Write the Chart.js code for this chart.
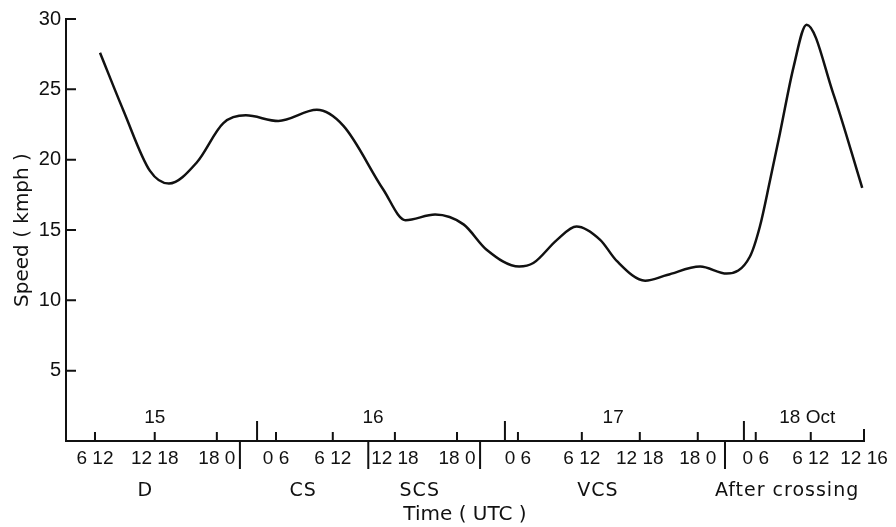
<!DOCTYPE html>
<html>
<head>
<meta charset="utf-8">
<script src="https://cdn.jsdelivr.net/npm/chart.js@4/dist/chart.umd.min.js"></script>
<style>
  body { margin: 0; background: #fff; }
  #speedChart { display: block; }
</style>
</head>
<body>
<canvas id="speedChart" width="896" height="527"></canvas>
<script>
// x is measured in 6-hourly steps from the first labelled tick
const curveX = [0.085, 0.48, 0.93, 1.25, 1.72, 2.17, 2.55, 3.10, 3.75, 4.20, 4.87, 5.25, 5.75, 6.23, 6.62,
  7.17, 7.41, 7.81, 8.14, 8.54, 8.82, 9.30, 9.67, 10.23, 10.68, 11.07, 11.24, 11.41, 11.58, 11.81, 12.03,
  12.48, 12.97];
const speed = [27.6, 23.5, 19.2, 18.3, 19.8, 22.6, 23.15, 22.75, 23.54, 22.4, 17.9, 15.7, 16.1, 15.4, 13.6,
  12.4, 12.65, 14.3, 15.25, 14.3, 12.8, 11.4, 11.8, 12.4, 11.9, 13.1, 15.25, 18.5, 21.9, 26.6, 29.6,
  24.7, 18.0];

const tickPos = [0, 1.01, 2.06, 3.06, 4.02, 5.07, 6.12, 7.15, 8.23, 9.21, 10.19, 11.17, 12.10, 13.0];
const tickLabels = ["6 12", "12 18", "18 0", "0 6", "6 12", "12 18", "18 0", "0 6", "6 12", "12 18", "18 0", "0 6", "6 12", "12 16"];

const days = ["15", "16", "17", "18 Oct"];
const dayPos = [1.01, 4.70, 8.76, 12.04];
const dayBounds = [2.74, 6.93, 10.97];

const stages = ["D", "CS", "SCS", "VCS", "After crossing"];
const stagePos = [0.85, 3.52, 5.49, 8.50, 11.70];
const stageBounds = [2.45, 4.62, 6.51, 10.65];

const speedTicks = [5, 10, 15, 20, 25, 30];

const ink = "#111";

const axisMarks = {
  id: "axisMarks",
  afterDraw(chart) {
    const ctx = chart.ctx;
    const xs = chart.scales.x;
    const ys = chart.scales.y;
    const bottom = ys.getPixelForValue(0);
    const left = xs.left;
    ctx.save();
    ctx.strokeStyle = ink;
    ctx.lineWidth = 2;
    ctx.beginPath();
    speedTicks.forEach(v => {
      const y = ys.getPixelForValue(v);
      ctx.moveTo(left, y);
      ctx.lineTo(left + 10, y);
    });
    tickPos.forEach((v, i) => {
      const x = xs.getPixelForValue(v);
      ctx.moveTo(x, bottom);
      ctx.lineTo(x, bottom - (i === tickPos.length - 1 ? 12 : 9));
    });
    dayBounds.forEach(v => {
      const x = xs.getPixelForValue(v);
      ctx.moveTo(x, bottom);
      ctx.lineTo(x, bottom - 20);
    });
    stageBounds.forEach(v => {
      const x = xs.getPixelForValue(v);
      ctx.moveTo(x, bottom);
      ctx.lineTo(x, bottom + 28);
    });
    ctx.stroke();

    ctx.fillStyle = ink;
    ctx.textAlign = "center";
    ctx.textBaseline = "middle";
    ctx.font = "19px 'Liberation Sans'";
    days.forEach((d, i) => {
      ctx.fillText(d, xs.getPixelForValue(dayPos[i]), bottom - 23);
    });
    ctx.font = "19px 'DejaVu Sans'";
    ctx.letterSpacing = "1px";
    stages.forEach((s, i) => {
      ctx.fillText(s, xs.getPixelForValue(stagePos[i]), bottom + 50);
    });
    ctx.restore();
  }
};

new Chart(document.getElementById("speedChart"), {
  type: "line",
  data: {
    datasets: [{
      data: curveX.map((x, i) => ({ x: x, y: speed[i] })),
      borderColor: ink,
      borderWidth: 2.5,
      pointRadius: 0,
      cubicInterpolationMode: "monotone",
      fill: false
    }]
  },
  options: {
    responsive: false,
    animation: false,
    events: [],
    layout: { padding: { top: 19, right: 32, bottom: 0, left: 0 } },
    plugins: {
      legend: { display: false },
      tooltip: { enabled: false }
    },
    scales: {
      x: {
        type: "linear",
        min: -0.49,
        max: 13,
        afterBuildTicks: scale => { scale.ticks = tickPos.map(v => ({ value: v })); },
        afterFit: scale => { scale.height = 86; },
        grid: { display: false, drawTicks: false },
        border: { display: true, color: ink, width: 2 },
        ticks: {
          autoSkip: false,
          maxRotation: 0,
          padding: 6,
          color: ink,
          font: { family: "'Liberation Sans'", size: 19 },
          callback: (v, i) => tickLabels[i]
        },
        title: {
          display: true,
          text: "Time ( UTC )",
          color: ink,
          font: { family: "'DejaVu Sans'", size: 20 },
          padding: { top: 0, bottom: 0 }
        }
      },
      y: {
        min: 0,
        max: 30,
        afterFit: scale => { scale.width = 66; },
        grid: { display: false, drawTicks: false },
        border: { display: true, color: ink, width: 2 },
        ticks: {
          stepSize: 5,
          padding: 5,
          color: ink,
          font: { family: "'Liberation Sans'", size: 20 },
          callback: v => (v === 0 ? "" : v)
        },
        title: {
          display: true,
          text: "Speed ( kmph )",
          color: ink,
          font: { family: "'DejaVu Sans'", size: 20 },
          padding: { top: 11, bottom: 0 }
        }
      }
    }
  },
  plugins: [axisMarks]
});
</script>
</body>
</html>
